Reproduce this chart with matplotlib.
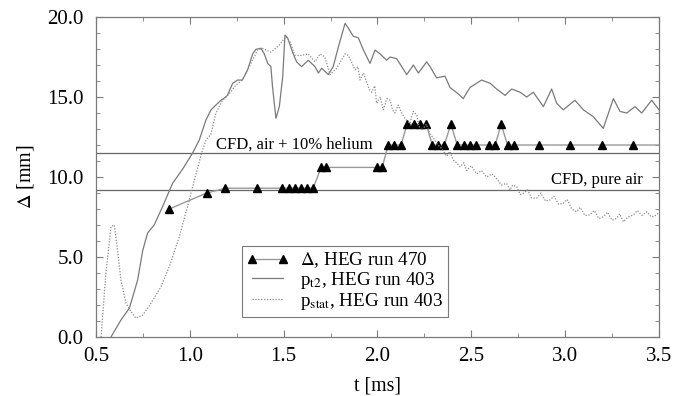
import matplotlib
matplotlib.use('Agg')
import matplotlib.pyplot as plt
from matplotlib.ticker import MultipleLocator

plt.rcParams['font.family'] = ['Liberation Serif', 'DejaVu Serif']
plt.rcParams['mathtext.fontset'] = 'stix'

# Delta, HEG run 470
delta_t = [0.89, 1.09, 1.19, 1.356, 1.489, 1.526, 1.560, 1.592, 1.624, 1.657,
           1.70, 1.725, 2.00, 2.025, 2.057, 2.089, 2.125, 2.158, 2.192, 2.226,
           2.26, 2.292, 2.324, 2.356, 2.391, 2.425, 2.459, 2.493, 2.526, 2.594,
           2.627, 2.659, 2.693, 2.727, 2.86, 3.025, 3.194, 3.362, 3.53]
delta_v = [8.0, 9.0, 9.3, 9.3, 9.3, 9.3, 9.3, 9.3, 9.3, 9.3,
           10.6, 10.6, 10.6, 10.6, 12.0, 12.0, 12.0, 13.3, 13.3, 13.3,
           13.3, 12.0, 12.0, 12.0, 13.3, 12.0, 12.0, 12.0, 12.0, 12.0,
           12.0, 13.3, 12.0, 12.0, 12.0, 12.0, 12.0, 12.0, 12.0]

# p_t2, HEG run 403
pt2_t = [0.58, 0.633, 0.678, 0.722, 0.749, 0.775, 0.81, 0.855, 0.908, 0.962,
         1.015, 1.05, 1.086, 1.113, 1.139, 1.166, 1.18, 1.20, 1.228, 1.255,
         1.28, 1.308, 1.335, 1.352, 1.379, 1.397, 1.415, 1.432, 1.441, 1.459,
         1.477, 1.495, 1.507, 1.521, 1.551, 1.569, 1.596, 1.631, 1.667, 1.685,
         1.703, 1.738, 1.764, 1.791, 1.827, 1.845, 1.871, 1.898, 1.925, 1.96,
         1.987, 2.013, 2.049, 2.067, 2.102, 2.129, 2.156, 2.191, 2.218, 2.262,
         2.28, 2.315, 2.36, 2.386, 2.43, 2.457, 2.493, 2.555, 2.6, 2.635,
         2.68, 2.715, 2.76, 2.795, 2.83, 2.884, 2.928, 2.955, 2.99, 3.052,
         3.097, 3.15, 3.203, 3.257, 3.292, 3.328, 3.372, 3.408, 3.461, 3.5]
pt2_v = [0.0, 1.06, 1.8, 3.56, 5.4, 6.5, 7.0, 8.15, 9.6, 10.5,
         11.5, 12.3, 13.56, 14.2, 14.5, 14.8, 14.9, 15.1, 15.85, 16.06,
         16.06, 16.7, 17.7, 17.98, 18.05, 17.7, 17.1, 16.9, 15.6, 13.67,
         14.4, 16.27, 18.87, 18.7, 17.7, 17.2, 16.9, 17.3, 16.9, 16.5,
         16.8, 16.4, 16.9, 18.1, 19.6, 19.3, 18.8, 18.7, 17.94, 17.1,
         17.94, 17.7, 17.3, 17.5, 17.4, 16.9, 16.4, 17.0, 16.5, 17.2,
         16.9, 16.2, 16.3, 15.6, 15.2, 14.9, 15.6, 16.06, 15.86, 15.5,
         15.1, 15.5, 15.3, 15.0, 15.3, 14.4, 15.5, 14.6, 14.2, 14.8,
         14.2, 13.77, 13.04, 14.9, 14.1, 14.0, 14.4, 14.0, 14.8, 14.2]

# p_stat, HEG run 403
pst_t = [0.527, 0.553, 0.58, 0.598, 0.615, 0.633, 0.66, 0.686, 0.713, 0.749,
         0.793, 0.846, 0.891, 0.944, 0.997, 1.033, 1.068, 1.086, 1.113, 1.139,
         1.175, 1.21, 1.246, 1.28, 1.326, 1.361, 1.388, 1.432, 1.477, 1.512,
         1.534, 1.56, 1.596, 1.631, 1.667, 1.694, 1.72, 1.747, 1.783, 1.827,
         1.845, 1.88, 1.895, 1.907, 1.925, 1.942, 1.955, 1.969, 1.985, 1.996,
         2.015, 2.031, 2.05, 2.067, 2.08, 2.093, 2.11, 2.129, 2.15, 2.173,
         2.19, 2.209, 2.22, 2.236, 2.26, 2.28, 2.3, 2.315, 2.34, 2.369,
         2.385, 2.404, 2.42, 2.44, 2.46, 2.475, 2.5, 2.529, 2.555, 2.582,
         2.61, 2.635, 2.66, 2.688, 2.706, 2.72, 2.742, 2.76, 2.777, 2.8,
         2.82, 2.848, 2.87, 2.895, 2.919, 2.94, 2.965, 2.99, 3.01, 3.035,
         3.061, 3.08, 3.105, 3.132, 3.155, 3.18, 3.203, 3.225, 3.25, 3.274,
         3.29, 3.31, 3.335, 3.363, 3.385, 3.41, 3.434, 3.46, 3.487, 3.5]
pst_v = [0.0, 4.0, 6.9, 7.0, 5.4, 3.56, 2.1, 1.6, 1.17, 1.37,
         2.1, 3.14, 4.4, 6.27, 8.56, 10.2, 11.7, 12.3, 12.7, 14.0,
         14.8, 15.2, 15.75, 16.06, 17.1, 17.94, 18.04, 17.8, 18.25, 18.77,
         18.46, 17.6, 17.6, 17.7, 17.2, 17.7, 17.5, 16.4, 16.8, 17.7,
         17.6, 16.7, 16.9, 16.06, 16.5, 15.96, 15.5, 15.3, 15.7, 14.6,
         15.0, 14.2, 14.9, 14.8, 14.2, 14.0, 14.5, 14.0, 13.6, 13.36,
         14.1, 13.9, 13.2, 12.9, 13.3, 12.7, 12.4, 12.1, 11.8, 11.3,
         11.6, 11.06, 10.9, 10.64, 10.9, 10.4, 10.7, 10.2, 10.4, 10.0,
         10.2, 9.9, 9.5, 9.6, 9.19, 9.5, 9.4, 8.9, 8.98, 9.2,
         8.7, 8.67, 9.0, 8.5, 8.56, 8.8, 8.3, 8.35, 8.6, 8.0,
         7.83, 8.1, 7.6, 7.63, 7.9, 7.4, 7.52, 7.8, 7.3, 7.42,
         7.7, 7.2, 7.5, 7.63, 7.9, 7.6, 7.83, 7.5, 7.63, 7.8]

cfd_helium = 11.5
cfd_air = 9.2

fig = plt.figure(figsize=(6.73, 3.96), dpi=100)
ax = fig.add_axes([0.1426, 0.149, 0.8366, 0.808])

grey = '#7a7a7a'
ax.axhline(cfd_helium, color='#666666', lw=0.9)
ax.axhline(cfd_air, color='#666666', lw=0.9)

ax.plot(delta_t, delta_v, color='#999999', lw=1.0, marker='^',
        markersize=6, markerfacecolor='black', markeredgecolor='black',
        label=r'$\Delta$, HEG run 470')
ax.plot(pt2_t, pt2_v, color=grey, lw=0.9, label=r'p$_{\mathrm{t2}}$, HEG run 403')
ax.plot(pst_t, pst_v, color='#8a8a8a', lw=0.9, linestyle=(0, (1, 1.3)),
        label=r'p$_{\mathrm{stat}}$, HEG run 403')

ax.text(1.14, 11.75, 'CFD, air + 10% helium', fontsize=12)
ax.text(3.413, 9.55, 'CFD, pure air', fontsize=12, ha='right')

ax.set_xlim(0.5, 3.5)
ax.set_ylim(0.0, 20.0)
ax.xaxis.set_major_locator(MultipleLocator(0.5))
ax.xaxis.set_minor_locator(MultipleLocator(0.25))
ax.yaxis.set_major_locator(MultipleLocator(5.0))
ax.yaxis.set_minor_locator(MultipleLocator(1.0))
ax.xaxis.set_major_formatter(plt.FormatStrFormatter('%.1f'))
ax.yaxis.set_major_formatter(plt.FormatStrFormatter('%.1f'))
ax.tick_params(which='both', direction='in', top=True, right=True,
               color=grey, labelsize=15)
ax.tick_params(which='major', length=5)
ax.tick_params(which='minor', length=3)
ax.tick_params(axis='y', which='both', pad=9)
ax.tick_params(axis='x', which='both', pad=7)
for s in ax.spines.values():
    s.set_color(grey)
    s.set_linewidth(0.9)

ax.set_xlabel('t [ms]', fontsize=14.3, labelpad=8)
ax.set_ylabel(r'$\Delta$ [mm]', fontsize=14.5, labelpad=8)

leg = ax.legend(loc='lower left', bbox_to_anchor=(0.259, 0.0625), numpoints=2,
                handlelength=2.2, fontsize=13.8, fancybox=False, framealpha=1,
                edgecolor=grey, borderpad=0.25, labelspacing=0.0,
                handletextpad=0.6, borderaxespad=0)
leg.get_frame().set_linewidth(0.8)

fig.savefig('out.png', dpi=100)
